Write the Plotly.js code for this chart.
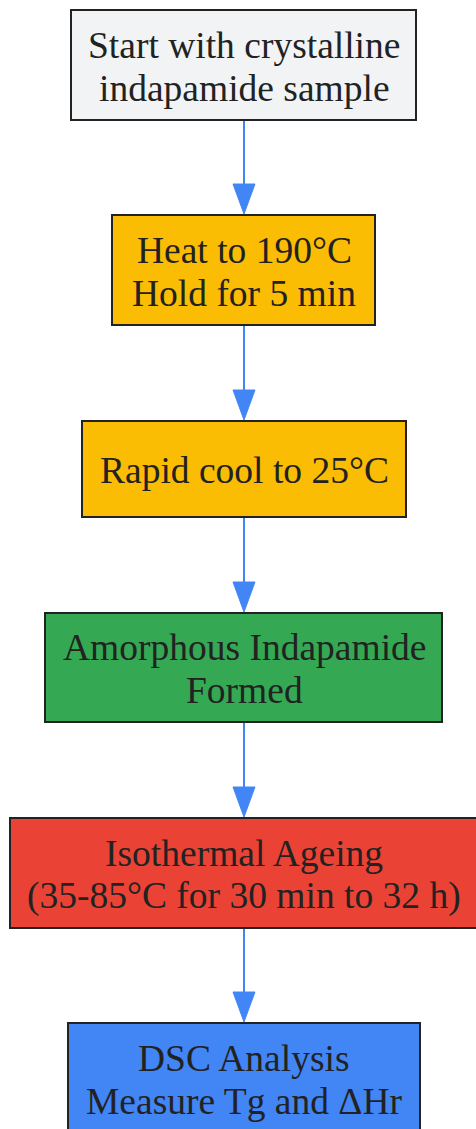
<!DOCTYPE html>
<html>
<head>
<meta charset="utf-8">
<script src="https://cdn.plot.ly/plotly-3.0.1.min.js"></script>
<style>
  html, body { margin: 0; padding: 0; background: #ffffff; }
  #chart { width: 476px; height: 1129px; }
</style>
</head>
<body>
<div id="chart"></div>
<script>
// ---- data ----
const stepLines = [
  ["Start with crystalline", "indapamide sample"],
  ["Heat to 190°C", "Hold for 5 min"],
  ["Rapid cool to 25°C"],
  ["Amorphous Indapamide", "Formed"],
  ["Isothermal Ageing", "(35-85°C for 30 min to 32 h)"],
  ["DSC Analysis", "Measure Tg and ΔHr"]
];
const stepKinds = ["start", "process", "process", "product", "ageing", "analysis"];
// edges between consecutive steps (from index -> to index)
const edgeFrom = [0, 1, 2, 3, 4];
const edgeTo   = [1, 2, 3, 4, 5];

// ---- styles / geometry ----
const kindFill = {
  start: "#f1f3f4",
  process: "#fbbc04",
  product: "#34a853",
  ageing: "#ea4335",
  analysis: "#4285f4"
};
const boxGeom = [
  {x0: 71,  x1: 416, y0: 10,   y1: 120},
  {x0: 112, x1: 375, y0: 215,  y1: 325},
  {x0: 82,  x1: 406, y0: 421,  y1: 517},
  {x0: 45,  x1: 442, y0: 613,  y1: 722},
  {x0: 10,  x1: 478, y0: 818,  y1: 928},
  {x0: 68,  x1: 420, y0: 1023, y1: 1133}
];
const cx = 244;
const lineGap = 43;
const fontSize = 37.5;
const textShift = 1.5;
const edgeColor = "#4285f4";

const shapes = [];
const annotations = [];

// edges
edgeFrom.forEach((f, i) => {
  const a = boxGeom[f], b = boxGeom[edgeTo[i]];
  const tipY = b.y0 - 1;
  const baseY = tipY - 30;
  shapes.push({
    type: "line", xref: "x", yref: "y",
    x0: cx, x1: cx, y0: a.y1, y1: baseY + 2,
    line: {color: edgeColor, width: 2}
  });
  shapes.push({
    type: "path", xref: "x", yref: "y",
    path: `M ${cx - 11} ${baseY} L ${cx + 11} ${baseY} L ${cx} ${tipY} Z`,
    fillcolor: edgeColor, line: {color: edgeColor, width: 1}
  });
});

// boxes and labels
stepLines.forEach((lines, i) => {
  const g = boxGeom[i];
  shapes.push({
    type: "rect", xref: "x", yref: "y",
    x0: g.x0, x1: g.x1, y0: g.y0, y1: g.y1,
    fillcolor: kindFill[stepKinds[i]],
    line: {color: "#222222", width: 2}
  });
  const mid = (g.y0 + g.y1) / 2 + textShift;
  const n = lines.length;
  lines.forEach((t, j) => {
    annotations.push({
      xref: "x", yref: "y", x: cx, y: mid + (j - (n - 1) / 2) * lineGap,
      text: t, showarrow: false, xanchor: "center", yanchor: "middle",
      font: {family: "Liberation Serif, Times New Roman, serif", size: fontSize, color: "#222222"}
    });
  });
});

const layout = {
  width: 476, height: 1129,
  margin: {l: 0, r: 0, t: 0, b: 0},
  paper_bgcolor: "#ffffff", plot_bgcolor: "#ffffff",
  xaxis: {range: [0, 476], visible: false, fixedrange: true},
  yaxis: {range: [1129, 0], visible: false, fixedrange: true},
  showlegend: false,
  shapes: shapes,
  annotations: annotations
};

Plotly.newPlot("chart", [], layout, {displayModeBar: false, staticPlot: true});
</script>
</body>
</html>
